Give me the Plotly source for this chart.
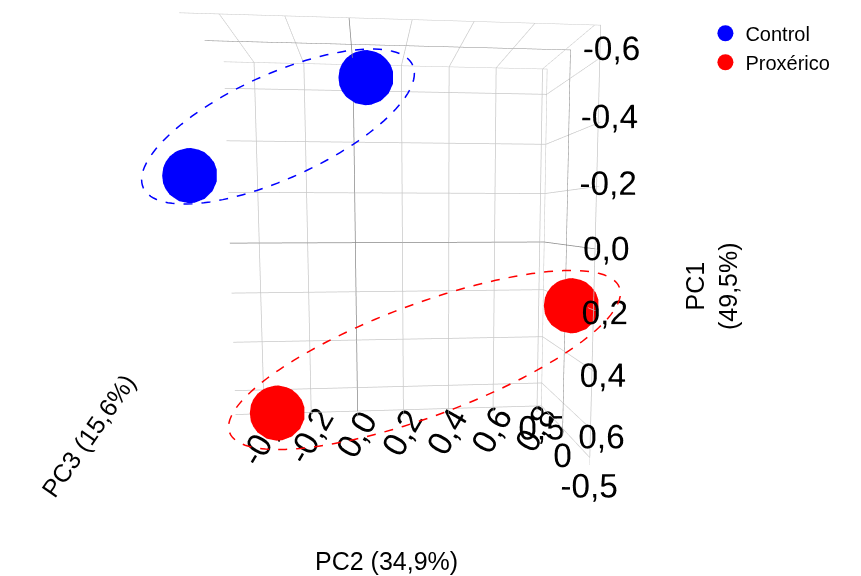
import math
import plotly.graph_objects as go

# ---------------- data ----------------
sample_group = ["Control", "Control", "Proxérico", "Proxérico"]
pc1 = [-0.23, -0.63, 0.64, 0.19]
pc2 = [-0.51, 0.05, -0.32, 0.76]
pc3 = [-0.50, 0.30, 0.20, -0.40]

group_names = ["Control", "Proxérico"]
group_colors = ["#0000ff", "#ff0000"]

pc1_ticks = [-0.6, -0.4, -0.2, 0.0, 0.2, 0.4, 0.6]
pc1_ticktext = ["-0,6", "-0,4", "-0,2", "0,0", "0,2", "0,4", "0,6"]
pc2_ticks = [-0.4, -0.2, 0.0, 0.2, 0.4, 0.6, 0.8]
pc2_ticktext = ["-0,4", "-0,2", "0,0", "0,2", "0,4", "0,6", "0,8"]
pc3_ticks = [-0.5, 0.0, 0.5]
pc3_ticktext = ["-0,5", "0", "0,5"]

axis_titles = {"pc1": "PC1<br>(49,5%)", "pc2": "PC2 (34,9%)", "pc3": "PC3 (15,6%)"}

W, H = 861, 576
FONT = "Liberation Sans, Arial, sans-serif"

# PC1 and PC3 axes are drawn reversed (PC1 grows downward, PC3 grows away
# from the viewer): plot their negatives and label the ticks with true values.
def rev(vals):
    return [-v for v in vals]

fig = go.Figure()
for name, color in zip(group_names, group_colors):
    idx = [i for i, g in enumerate(sample_group) if g == name]
    fig.add_trace(go.Scatter3d(
        x=[pc2[i] for i in idx],
        y=rev([pc1[i] for i in idx]),
        z=rev([pc3[i] for i in idx]),
        mode="markers",
        name=name,
        marker=dict(size=32, color=color, opacity=1, line=dict(width=0)),
        hoverinfo="name",
    ))

def axis(tv, tt, rng, angle):
    return dict(
        title=dict(text=""),
        tickmode="array", tickvals=tv, ticktext=tt, tickangle=angle,
        tickfont=dict(size=20, color="black", family=FONT),
        range=rng, autorange=False,
        showgrid=True, gridcolor="#c8c8c8", gridwidth=1.5,
        zeroline=True, zerolinecolor="#8a8a8a", zerolinewidth=1.5,
        showline=True, linecolor="#c8c8c8", linewidth=1.5,
        showbackground=False, showspikes=False,
        ticks="outside", ticklen=6, tickcolor="#c8c8c8",
    )

# camera: eye slightly left of and above the box centre, view tilted so the
# box front face sits where it should on the page (round-6 settings)
D = 2.52
ex, ey = -0.10, 0.10
vx, vy = 0.104, -0.113

fig.update_layout(
    width=W, height=H,
    margin=dict(l=0, r=0, t=0, b=0),
    paper_bgcolor="white",
    separators=",.",
    font=dict(family=FONT, color="black"),
    scene=dict(
        domain=dict(x=[0, 1], y=[0, 1]),
        xaxis=axis(pc2_ticks, pc2_ticktext, [-0.52, 0.82], -60),
        yaxis=axis(rev(pc1_ticks), pc1_ticktext, [-0.7, 0.7], 0),
        zaxis=axis(rev(pc3_ticks), pc3_ticktext, [-0.5, 0.5], 0),
        aspectmode="manual",
        aspectratio=dict(x=1.278, y=1.4, z=0.65),
        camera=dict(
            eye=dict(x=ex, y=ey, z=D),
            up=dict(x=0, y=1, z=0),
            center=dict(x=ex + vx * D, y=ey + vy * D, z=0),
            projection=dict(type="perspective"),
        ),
        bgcolor="white",
    ),
    legend=dict(x=0.81, y=0.99, xanchor="left", yanchor="top",
                font=dict(size=20, color="black", family=FONT),
                itemsizing="trace", bgcolor="rgba(0,0,0,0)"),
)

# axis titles as page annotations
title_font = dict(size=25, color="black", family=FONT)
fig.add_annotation(text=axis_titles["pc2"], x=378 / W, y=1 - 553 / H, xref="paper", yref="paper",
                   showarrow=False, font=title_font, xanchor="center", yanchor="middle")
fig.add_annotation(text=axis_titles["pc1"], x=703 / W, y=1 - 278 / H, xref="paper", yref="paper",
                   showarrow=False, font=title_font, textangle=-90, xanchor="center", yanchor="middle")
fig.add_annotation(text=axis_titles["pc3"], x=80 / W, y=1 - 428 / H, xref="paper", yref="paper",
                   showarrow=False, font=title_font, textangle=-55, xanchor="center", yanchor="middle")

# dashed group ellipses (annotation overlay, pixel geometry -> paper coords)
ellipses = [
    dict(cx=270, cy=118.5, a=148, b=52, angle=24.5, color="#0000ff"),
    dict(cx=416.5, cy=352, a=208, b=56, angle=20.4, color="#ff0000"),
]
for e in ellipses:
    th = math.radians(e["angle"])
    pts = []
    for k in range(121):
        t = 2 * math.pi * k / 120
        px = e["cx"] + e["a"] * math.cos(t) * math.cos(th) - e["b"] * math.sin(t) * math.sin(th)
        py = e["cy"] - (e["a"] * math.cos(t) * math.sin(th) + e["b"] * math.sin(t) * math.cos(th))
        pts.append((px / W, 1 - py / H))
    path = "M " + " L ".join(f"{x:.5f},{y:.5f}" for x, y in pts) + " Z"
    fig.add_shape(type="path", path=path, xref="paper", yref="paper",
                  line=dict(color=e["color"], width=1.5, dash="dash"), layer="above")

fig.write_html("out.html")
